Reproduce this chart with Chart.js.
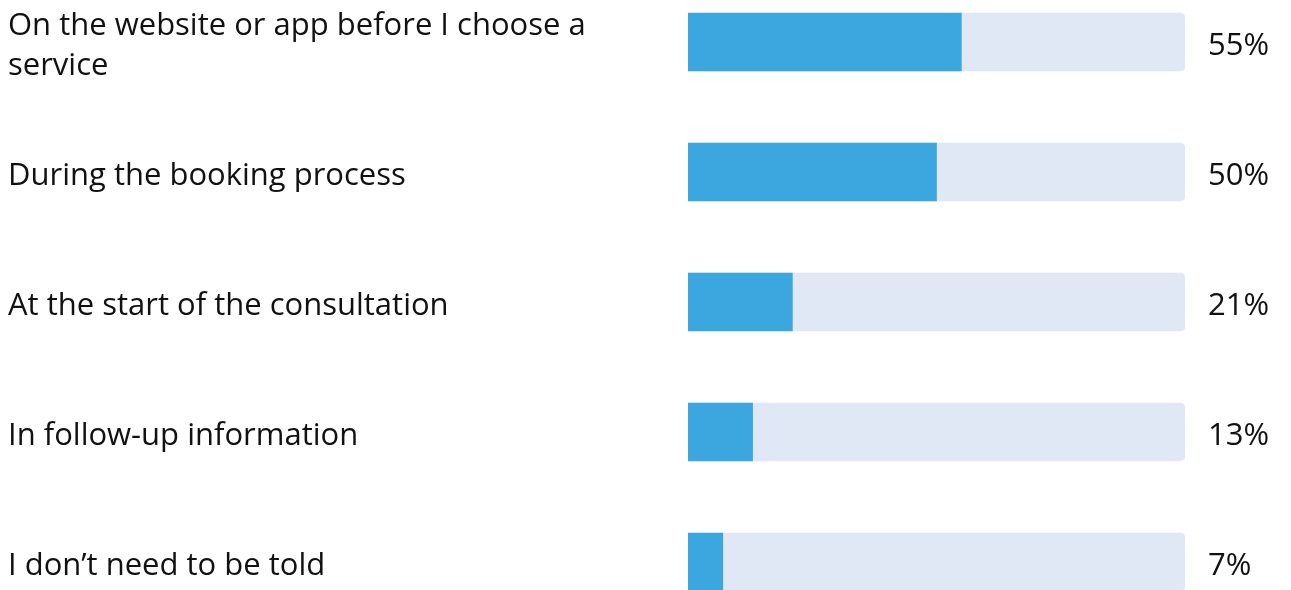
<!DOCTYPE html>
<html>
<head>
<meta charset="utf-8">
<script src="https://cdn.jsdelivr.net/npm/chart.js@4/dist/chart.umd.min.js"></script>
<style>
  html, body { margin: 0; padding: 0; background: #ffffff; overflow: hidden; }
  #wrap { position: relative; width: 1291px; height: 650px; margin-top: -23px; }
</style>
</head>
<body>
<div id="wrap"><canvas id="c"></canvas></div>
<script>
const categories = [
  ["On the website or app before I choose a", "service"],
  "During the booking process",
  "At the start of the consultation",
  "In follow-up information",
  "I don\u2019t need to be told"
];
const values = [55, 50, 21, 13, 7];
const trackValues = [100, 100, 100, 100, 100];
const valueLabels = values.map(v => v + "%");

const FONT = "'Open Sans', sans-serif";

function fixPad(scale, w) {
  scale.width = w;
  scale.paddingTop = 0;
  scale.paddingBottom = 0;
}

new Chart(document.getElementById('c'), {
  type: 'bar',
  data: {
    labels: categories,
    datasets: [
      {
        label: 'value',
        data: values,
        backgroundColor: '#3ba7de',
        barThickness: 58,
        grouped: false,
        order: 1,
        borderRadius: 0,
        borderSkipped: false
      },
      {
        label: 'track',
        data: trackValues,
        backgroundColor: '#e1e8f5',
        barThickness: 58,
        grouped: false,
        order: 2,
        borderRadius: { topLeft: 0, bottomLeft: 0, topRight: 5, bottomRight: 5 },
        borderSkipped: false
      }
    ]
  },
  options: {
    indexAxis: 'y',
    responsive: true,
    maintainAspectRatio: false,
    animation: false,
    layout: { padding: { left: 8, right: 0, top: 0, bottom: 0 } },
    plugins: { legend: { display: false }, tooltip: { enabled: false } },
    scales: {
      x: {
        min: 0, max: 100,
        display: false
      },
      y: {
        position: 'left',
        grid: { display: false, drawTicks: false },
        border: { display: false },
        ticks: {
          crossAlign: 'far',
          color: '#111111',
          font: { family: FONT, size: 31, lineHeight: 1.29 },
          padding: 0,
          labelOffset: 4
        },
        afterFit(scale) { fixPad(scale, 680); }
      },
      y2: {
        type: 'category',
        position: 'right',
        labels: valueLabels,
        offset: true,
        grid: { display: false, drawTicks: false },
        border: { display: false },
        ticks: {
          color: '#111111',
          font: { family: FONT, size: 31 },
          padding: 23,
          labelOffset: 4
        },
        afterFit(scale) { fixPad(scale, 106); }
      }
    }
  }
});
</script>
</body>
</html>
